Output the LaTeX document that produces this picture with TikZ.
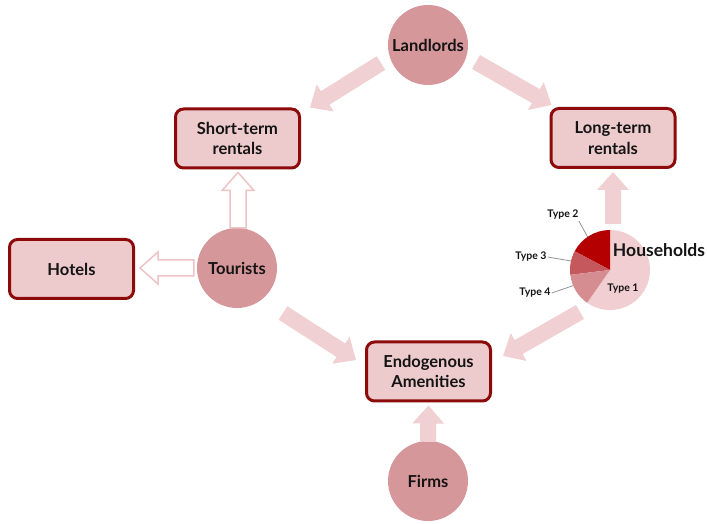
\documentclass[tikz,border=0pt]{standalone}
\usepackage{fontspec}
\setmainfont{Lato}
\usetikzlibrary{calc}
\definecolor{circfill}{HTML}{D6979B}
\definecolor{boxfill}{HTML}{EDCBCD}
\definecolor{boxline}{HTML}{8C0A0A}
\definecolor{arrfill}{HTML}{F0D0D2}
\definecolor{arrline}{HTML}{EDC3C6}
\definecolor{pieA}{HTML}{F0CED1}
\definecolor{pieB}{HTML}{B40000}
\definecolor{pieC}{HTML}{C5585C}
\definecolor{pieD}{HTML}{D68D91}
\definecolor{txt}{HTML}{141414}
\tikzset{
  agent/.style={circle, fill=circfill, minimum size=80pt, inner sep=0pt,
    font=\fontsize{16.5}{20}\selectfont\bfseries, text=txt},
  market/.style={rectangle, rounded corners=8pt, draw=boxline, line width=3pt,
    fill=boxfill, minimum width=124pt, minimum height=59pt, align=center,
    font=\fontsize{16.5}{20.5}\selectfont\bfseries, text=txt},
  solidarrow/.style={fill=arrfill},
  openarrow/.style={fill=white, draw=arrline, line width=1.5pt, line join=miter},
  typelabel/.style={font=\fontsize{10.5}{12}\selectfont\bfseries, text=txt, inner sep=1pt},
  leader/.style={draw=gray!85, line width=0.8pt}
}
\newcommand{\blockarrow}[3][solidarrow]{%
  \coordinate (hb) at ($(#3)!18pt!(#2)$);
  \path[#1] ($(#2)!8pt!90:(#3)$) -- ($(hb)!8pt!90:(#3)$) -- ($(hb)!16pt!90:(#3)$)
    -- (#3) -- ($(hb)!16pt!-90:(#3)$) -- ($(hb)!8pt!-90:(#3)$)
    -- ($(#2)!8pt!-90:(#3)$) -- cycle;}
\begin{document}
\begin{tikzpicture}[x=1pt,y=1pt]
\useasboundingbox (0,0) rectangle (707,524);

% agents
\node[agent] (land) at (428,479) {Landlords};
\node[agent] (tour) at (237,256) {Tourists};
\node[agent] (firms) at (428,43) {Firms};

% markets
\node[market] (st) at (237.5,385.5) {Short-term\\rentals};
\node[market] (lt) at (613,386) {Long-term\\rentals};
\node[market] (hotels) at (71.5,255) {Hotels};
\node[market] (endo) at (428.5,152.5) {Endogenous\\Amenities};

% households pie
\node[circle, minimum size=80pt, inner sep=0pt] (hh) at (610,254) {};
\fill[pieA] (hh.center) -- ($(hh.center)+(-125:40pt)$) arc[start angle=-125, end angle=90, radius=40pt] -- cycle;
\fill[pieB] (hh.center) -- ($(hh.center)+(90:40pt)$) arc[start angle=90, end angle=152, radius=40pt] -- cycle;
\fill[pieC] (hh.center) -- ($(hh.center)+(152:40pt)$) arc[start angle=152, end angle=187, radius=40pt] -- cycle;
\fill[pieD] (hh.center) -- ($(hh.center)+(187:40pt)$) arc[start angle=187, end angle=235, radius=40pt] -- cycle;
\node[font=\fontsize{17.5}{21}\selectfont\bfseries, text=txt, inner sep=0pt] (hhlabel) at (659,274) {Households};
\node[typelabel] (t1) at (623,235) {Type 1};
\node[typelabel] (t2) at (563,309) {Type 2};
\node[typelabel] (t3) at (531,267) {Type 3};
\node[typelabel] (t4) at (535,231) {Type 4};
\draw[leader] ($(t2.south east)+(-1,0)$) -- ($(hh.center)+(124:40pt)$);
\draw[leader] (t3.east) -- ($(hh.center)+(167:40pt)$);
\draw[leader] (t4.east) -- ($(hh.center)+(203:40pt)$);

% arrow end points
\coordinate (a1s) at ($(land)+(-47,-18)$);
\coordinate (a1e) at ($(st.north east)+(9,0)$);
\coordinate (a2s) at ($(land)+(48,-17)$);
\coordinate (a2e) at ($(lt.north west)+(2,2)$);
\coordinate (a3s) at ($(tour.north)+(1,0)$);
\coordinate (a3e) at ($(st.south)+(0.5,-3)$);
\coordinate (a4s) at ($(tour.west)+(-3,0)$);
\coordinate (a4e) at ($(hotels.east)+(5,1)$);
\coordinate (a5s) at ($(tour)+(46,-45)$);
\coordinate (a5e) at ($(endo.west)+(-9,11.5)$);
\coordinate (a6s) at ($(hh)+(-30,-42)$);
\coordinate (a6e) at ($(endo.east)+(11,15.5)$);
\coordinate (a7s) at ($(hh.north)+(3,6)$);
\coordinate (a7e) at ($(lt.south)+(0,-3)$);
\coordinate (a8s) at ($(firms.north)+(0,-1)$);
\coordinate (a8e) at ($(endo.south)+(0,-3)$);

\blockarrow{a1s}{a1e}
\blockarrow{a2s}{a2e}
\blockarrow[openarrow]{a3s}{a3e}
\blockarrow[openarrow]{a4s}{a4e}
\blockarrow{a5s}{a5e}
\blockarrow{a6s}{a6e}
\blockarrow{a7s}{a7e}
\blockarrow{a8s}{a8e}
\end{tikzpicture}
\end{document}
